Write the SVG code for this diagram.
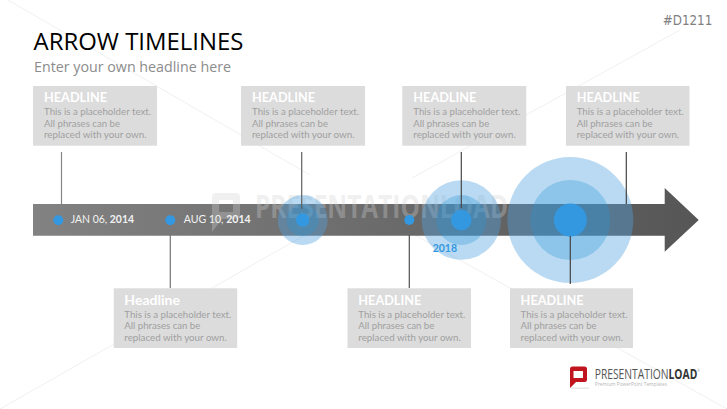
<svg xmlns="http://www.w3.org/2000/svg" width="727" height="409" viewBox="0 0 727 409">
<style>
text{font-family:"Open Sans","Noto Sans","Liberation Sans",sans-serif}
.box{fill:#dcdcdc}
.hd,.tx,.dt,.yr{font-family:Lato,"Open Sans",sans-serif}
.hd{font-size:13.5px;font-weight:700;fill:#fff}
.tx{font-size:10px;fill:#a0a0a0}
.ln{stroke:url(#lnc);stroke-width:1.2;fill:none}
.o{fill:#50a2de;fill-opacity:.4}
.m{fill:#2b94d8;fill-opacity:.31}
.i{fill:#3498e0}
.wm{stroke:#ececec;stroke-width:.8;fill:none}
.dt{font-size:10.6px;fill:#f2f2f2}
</style>
<defs>
<linearGradient id="bar" x1="33" x2="699" y1="0" y2="0" gradientUnits="userSpaceOnUse"><stop offset="0" stop-color="#828282"/><stop offset="1" stop-color="#565656"/></linearGradient>
<linearGradient id="lnc" x1="33" x2="480" y1="0" y2="0" gradientUnits="userSpaceOnUse"><stop offset="0" stop-color="#8a8a8a"/><stop offset="1" stop-color="#444"/></linearGradient>
</defs>
<rect width="727" height="409" fill="#fff"/>
<g id="watermark-lines">
<path class="wm" d="M8 0L310 175M415 235L727 409M680 30L412 178M305 235L0 409"/>
</g>
<text x="33.5" y="49.5" font-size="23" fill="#000" textLength="210" lengthAdjust="spacingAndGlyphs">ARROW TIMELINES</text>
<text x="34" y="72" font-size="14.5" fill="#8c8c8c" textLength="197" lengthAdjust="spacingAndGlyphs">Enter your own headline here</text>
<text x="662.7" y="25" font-size="13.5" fill="#808080" textLength="49.6" lengthAdjust="spacingAndGlyphs" style="font-family:'DejaVu Sans',sans-serif">#D1211</text>
<g id="timeline-arrow">
<path d="M33 204H664.7V188L698.7 220L664.7 251.7V235.7H33Z" fill="url(#bar)"/>
</g>
<g id="watermark" opacity=".32">
<path d="M216 193H236Q240 193 240 197V215Q240 219 236 219H222L212 232V197Q212 193 216 193ZM219 200V212H233V200Z" fill="#d1d1d1" fill-rule="evenodd"/>
<text x="255" y="218" font-size="33" font-weight="700" fill="#d1d1d1" textLength="253" lengthAdjust="spacingAndGlyphs">PRESENTATIONLOAD</text>
</g>
<g id="node-jan">
<circle class="i" cx="58.3" cy="220.3" r="5"/>
<text class="dt" x="70.7" y="222.5" textLength="63.3" lengthAdjust="spacingAndGlyphs">JAN 06, <tspan font-weight="700">2014</tspan></text>
</g>
<g id="node-aug">
<circle class="i" cx="170.3" cy="220.3" r="5"/>
<text class="dt" x="183.7" y="222.5" textLength="67" lengthAdjust="spacingAndGlyphs">AUG 10, <tspan font-weight="700">2014</tspan></text>
</g>
<g id="node-small">
<circle class="o" cx="302.7" cy="220" r="25"/><circle class="m" cx="302.7" cy="220" r="16"/><circle class="i" cx="302.7" cy="220" r="6.7"/>
</g>
<g id="node-dot">
<circle class="i" cx="409.3" cy="220" r="5"/>
</g>
<g id="node-2018">
<circle class="o" cx="461.3" cy="220" r="39.7"/><circle class="m" cx="461.3" cy="220" r="25"/><circle class="i" cx="461.3" cy="220" r="10.3"/>
<text class="yr" x="432.7" y="252" font-size="10.5" font-weight="700" fill="#3498e0" textLength="24.3" lengthAdjust="spacingAndGlyphs">2018</text>
</g>
<g id="node-large">
<circle class="o" cx="570.3" cy="220" r="63"/><circle class="m" cx="570.3" cy="220" r="40"/><circle class="i" cx="570.3" cy="220" r="16.5"/>
</g>
<g id="connectors">
<path class="ln" d="M61.5 152V204M301.7 152V209M461.3 152V208M626.3 152V204M170.3 235V288M409.3 235V288M570.3 236V284"/>
</g>
<g id="box-1"><rect class="box" x="33" y="86" width="124" height="59.7"/><text class="hd" x="44" y="102" textLength="63" lengthAdjust="spacingAndGlyphs">HEADLINE</text><text class="tx" x="44" y="115" textLength="107" lengthAdjust="spacingAndGlyphs">This is a placeholder text.</text><text class="tx" x="44" y="126.5" textLength="76" lengthAdjust="spacingAndGlyphs">All phrases can be</text><text class="tx" x="44" y="138" textLength="102.5" lengthAdjust="spacingAndGlyphs">replaced with your own.</text></g>
<g id="box-2"><rect class="box" x="241" y="86" width="124" height="59.7"/><text class="hd" x="252" y="102" textLength="63" lengthAdjust="spacingAndGlyphs">HEADLINE</text><text class="tx" x="252" y="115" textLength="107" lengthAdjust="spacingAndGlyphs">This is a placeholder text.</text><text class="tx" x="252" y="126.5" textLength="76" lengthAdjust="spacingAndGlyphs">All phrases can be</text><text class="tx" x="252" y="138" textLength="102.5" lengthAdjust="spacingAndGlyphs">replaced with your own.</text></g>
<g id="box-3"><rect class="box" x="402.3" y="86" width="124" height="59.7"/><text class="hd" x="413.3" y="102" textLength="63" lengthAdjust="spacingAndGlyphs">HEADLINE</text><text class="tx" x="413.3" y="115" textLength="107" lengthAdjust="spacingAndGlyphs">This is a placeholder text.</text><text class="tx" x="413.3" y="126.5" textLength="76" lengthAdjust="spacingAndGlyphs">All phrases can be</text><text class="tx" x="413.3" y="138" textLength="102.5" lengthAdjust="spacingAndGlyphs">replaced with your own.</text></g>
<g id="box-4"><rect class="box" x="566" y="86" width="123.5" height="59.7"/><text class="hd" x="576.7" y="102" textLength="63" lengthAdjust="spacingAndGlyphs">HEADLINE</text><text class="tx" x="576.7" y="115" textLength="107" lengthAdjust="spacingAndGlyphs">This is a placeholder text.</text><text class="tx" x="576.7" y="126.5" textLength="76" lengthAdjust="spacingAndGlyphs">All phrases can be</text><text class="tx" x="576.7" y="138" textLength="102.5" lengthAdjust="spacingAndGlyphs">replaced with your own.</text></g>
<g id="box-5"><rect class="box" x="113.7" y="288.3" width="123.5" height="59.7"/><text class="hd" x="124.3" y="305" textLength="55.7" lengthAdjust="spacingAndGlyphs">Headline</text><text class="tx" x="124.3" y="317.5" textLength="107" lengthAdjust="spacingAndGlyphs">This is a placeholder text.</text><text class="tx" x="124.3" y="329" textLength="76" lengthAdjust="spacingAndGlyphs">All phrases can be</text><text class="tx" x="124.3" y="340.5" textLength="102.5" lengthAdjust="spacingAndGlyphs">replaced with your own.</text></g>
<g id="box-6"><rect class="box" x="347.5" y="288.3" width="123.5" height="59.7"/><text class="hd" x="358.3" y="305" textLength="63" lengthAdjust="spacingAndGlyphs">HEADLINE</text><text class="tx" x="358.3" y="317.5" textLength="107" lengthAdjust="spacingAndGlyphs">This is a placeholder text.</text><text class="tx" x="358.3" y="329" textLength="76" lengthAdjust="spacingAndGlyphs">All phrases can be</text><text class="tx" x="358.3" y="340.5" textLength="102.5" lengthAdjust="spacingAndGlyphs">replaced with your own.</text></g>
<g id="box-7"><rect class="box" x="510" y="288.3" width="123" height="59.7"/><text class="hd" x="520.6" y="305" textLength="63" lengthAdjust="spacingAndGlyphs">HEADLINE</text><text class="tx" x="520.6" y="317.5" textLength="107" lengthAdjust="spacingAndGlyphs">This is a placeholder text.</text><text class="tx" x="520.6" y="329" textLength="76" lengthAdjust="spacingAndGlyphs">All phrases can be</text><text class="tx" x="520.6" y="340.5" textLength="102.5" lengthAdjust="spacingAndGlyphs">replaced with your own.</text></g>
<g id="logo">
<rect x="571" y="387.5" width="18" height="1.5" fill="#e8e8e8"/>
<path d="M572.5 366.5H584.5Q587 366.5 587 369V379.5Q587 382 584.5 382H576L570 388V369Q570 366.5 572.5 366.5ZM573.5 371V378H583V371Z" fill="#c0141f" fill-rule="evenodd"/>
<text x="594.7" y="378.5" font-size="14" fill="#555" textLength="105" lengthAdjust="spacingAndGlyphs">PRESENTATION<tspan font-weight="700" fill="#333">LOAD</tspan><tspan font-size="4" fill="#888" dy="-6.5">®</tspan></text>
<text x="595" y="386" font-size="5" fill="#b5b5b5" textLength="72" lengthAdjust="spacingAndGlyphs">Premium PowerPoint Templates</text>
</g>
</svg>
